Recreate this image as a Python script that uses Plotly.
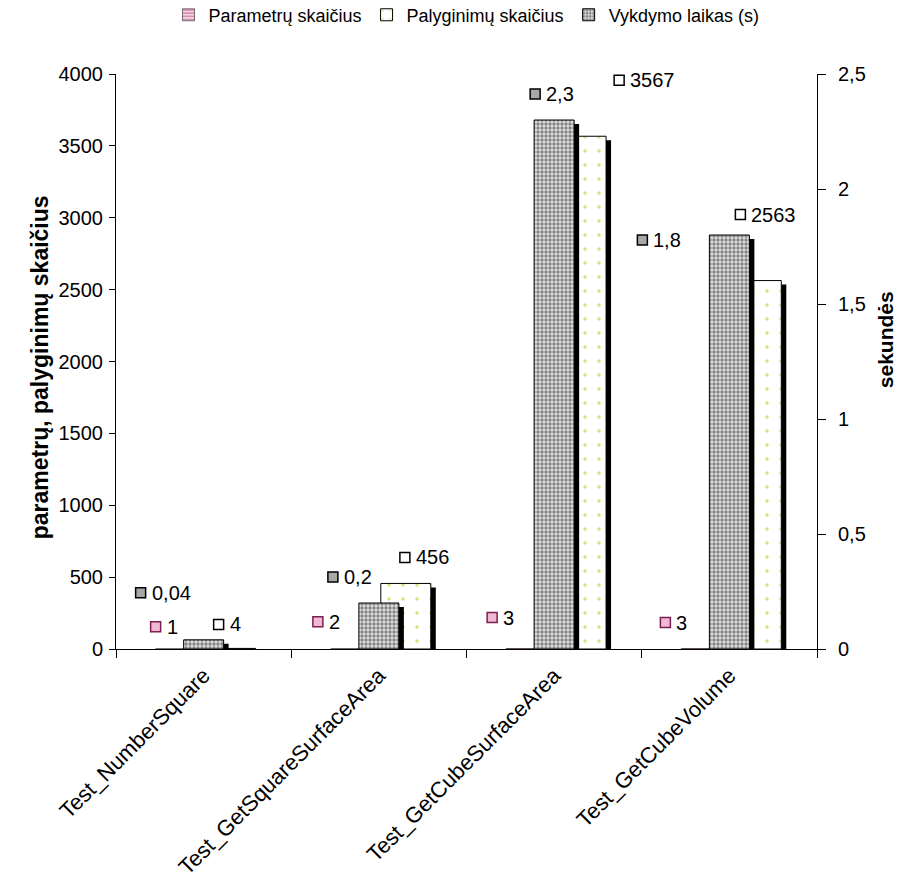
import plotly.graph_objects as go

# ---- data -------------------------------------------------------------
categories = [
    "Test_NumberSquare",
    "Test_GetSquareSurfaceArea",
    "Test_GetCubeSurfaceArea",
    "Test_GetCubeVolume",
]
param_counts = [1, 2, 3, 3]            # Parametrų skaičius
compare_counts = [4, 456, 3567, 2563]  # Palyginimų skaičius
exec_time = [0.04, 0.2, 2.3, 1.8]      # Vykdymo laikas (s)

series_names = ["Parametrų skaičius", "Palyginimų skaičius", "Vykdymo laikas (s)"]
left_title = "parametrų, palyginimų skaičius"
right_title = "sekundės"

# ---- layout constants -------------------------------------------------
W, H = 898, 886
M_L, M_R, M_T, M_B = 116, 81, 74, 237
PLOT_W = W - M_L - M_R
PLOT_H = H - M_T - M_B
Y1_MAX, Y2_MAX = 4000, 2.5
CAT_PX = PLOT_W / len(categories)

FONT = "Liberation Sans, Arial, sans-serif"
FS = 20

# bar geometry (in category units)
BAR_W = 50 / CAT_PX
TIME_W = 40 / CAT_PX
SH_X = 5 / CAT_PX            # shadow shift to the right
SH_Y1 = 4 * Y1_MAX / PLOT_H  # shadow drop on the left axis
SH_Y2 = 4 * Y2_MAX / PLOT_H  # shadow drop on the right axis

GRAY_PAT = dict(shape=".", fgcolor="#222222", bgcolor="#e2e2e2", size=4, solidity=0.55)
DOT_PAT = dict(shape=".", fgcolor="#99cc00", bgcolor="white", size=14, solidity=0.05)
PINK_PAT = dict(shape="-", fgcolor="#a3285f", bgcolor="#f6d3e4", size=4, solidity=0.4)
EDGE = dict(color="black", width=1)

fig = go.Figure()

# left axis: shadow of the comparison bars, then the two count series
fig.add_trace(go.Bar(
    x=categories, y=compare_counts, base=[-SH_Y1] * len(categories),
    width=BAR_W, offset=0.011 + SH_X, marker=dict(color="black", line=dict(width=0)),
    showlegend=False, hoverinfo="skip",
))
fig.add_trace(go.Bar(
    name=series_names[0], x=categories, y=param_counts,
    width=BAR_W, offset=-BAR_W + 0.011,
    marker=dict(color="white", pattern=PINK_PAT, line=dict(color="black", width=0.5)),
))
fig.add_trace(go.Bar(
    name=series_names[1], x=categories, y=compare_counts,
    width=BAR_W, offset=0.011,
    marker=dict(color="white", pattern=DOT_PAT, line=EDGE),
))

# right axis: execution time with its shadow
fig.add_trace(go.Bar(
    x=categories, y=exec_time, base=[-SH_Y2] * len(categories), yaxis="y2",
    width=TIME_W, offset=-TIME_W / 2 + SH_X,
    marker=dict(color="black", line=dict(width=0)),
    showlegend=False, hoverinfo="skip",
))
fig.add_trace(go.Bar(
    name=series_names[2], x=categories, y=exec_time, yaxis="y2",
    width=TIME_W, offset=-TIME_W / 2,
    marker=dict(color="white", pattern=GRAY_PAT, line=EDGE),
))

# ---- value labels with legend keys -----------------------------------
# pixel offsets (icon left edge, icon centre) from the top of each bar
gray_off = [(-68, -47), (-51, -26), (-24, -26), (-92, 5)]
white_off = [(10, -24), (21, -26), (60, -56), (6, -66)]
pink_off = [(-53, -22), (-66, -27), (-67, -31), (-69, -26)]


def fmt(v):
    return str(v).replace(".", ",")


def add_label(i, v, off, yref, fill, line_col):
    dx, dy = off
    fig.add_shape(
        type="rect", xref="x", yref=yref,
        xsizemode="pixel", ysizemode="pixel", xanchor=i, yanchor=v,
        x0=dx, x1=dx + 10, y0=-dy - 5, y1=-dy + 5,
        fillcolor=fill, line=dict(color=line_col, width=1.5),
    )
    fig.add_annotation(
        x=i, y=v, xref="x", yref=yref, text=fmt(v), showarrow=False,
        xanchor="left", yanchor="middle", xshift=dx + 14, yshift=-dy,
        font=dict(family=FONT, size=FS, color="black"),
    )


for i in range(len(categories)):
    add_label(i, exec_time[i], gray_off[i], "y2", "#a8a8a8", "black")
    add_label(i, compare_counts[i], white_off[i], "y", "white", "black")
    add_label(i, param_counts[i], pink_off[i], "y", "#f0b8d2", "#7a1f4f")

# axis titles
fig.add_annotation(
    xref="paper", yref="paper", x=0, y=0.49, xshift=-76, xanchor="center", yanchor="middle",
    text=f"<b>{left_title}</b>", textangle=-90, showarrow=False,
    font=dict(family=FONT, size=23, color="black"),
)
fig.add_annotation(
    xref="paper", yref="paper", x=1, y=0.537, xshift=68, xanchor="center", yanchor="middle",
    text=f"<b>{right_title}</b>", textangle=-90, showarrow=False,
    font=dict(family=FONT, size=21, color="black"),
)

fig.update_layout(
    width=W, height=H,
    margin=dict(l=M_L, r=M_R, t=M_T, b=M_B, autoexpand=False),
    paper_bgcolor="white", plot_bgcolor="white",
    barmode="overlay",
    separators=",.",
    font=dict(family=FONT, size=FS, color="black"),
    legend=dict(
        orientation="h", x=0.5, xanchor="center", y=0.983, yanchor="middle",
        yref="container", font=dict(family=FONT, size=18),
        itemwidth=30, tracegroupgap=0,
    ),
    xaxis=dict(
        type="category", range=[-0.5, len(categories) - 0.5], automargin=False,
        showline=True, linecolor="black", linewidth=1,
        ticks="outside", ticklen=8, tickcolor="black", tickson="boundaries",
        tickangle=-45, ticklabelstandoff=4, showgrid=False, zeroline=False,
        tickfont=dict(family=FONT, size=22),
    ),
    yaxis=dict(
        range=[0, Y1_MAX], dtick=500, automargin=False,
        showline=True, linecolor="black", linewidth=1,
        ticks="outside", ticklen=6, tickcolor="black", showgrid=False, zeroline=False,
        ticklabelstandoff=2, tickfont=dict(family=FONT, size=FS),
    ),
    yaxis2=dict(
        range=[0, Y2_MAX], dtick=0.5, overlaying="y", side="right", automargin=False,
        showline=True, linecolor="black", linewidth=1,
        ticks="outside", ticklen=8, tickcolor="black", showgrid=False, zeroline=False,
        ticklabelstandoff=8, tickfont=dict(family=FONT, size=FS),
    ),
)

fig.write_html("out.html")
